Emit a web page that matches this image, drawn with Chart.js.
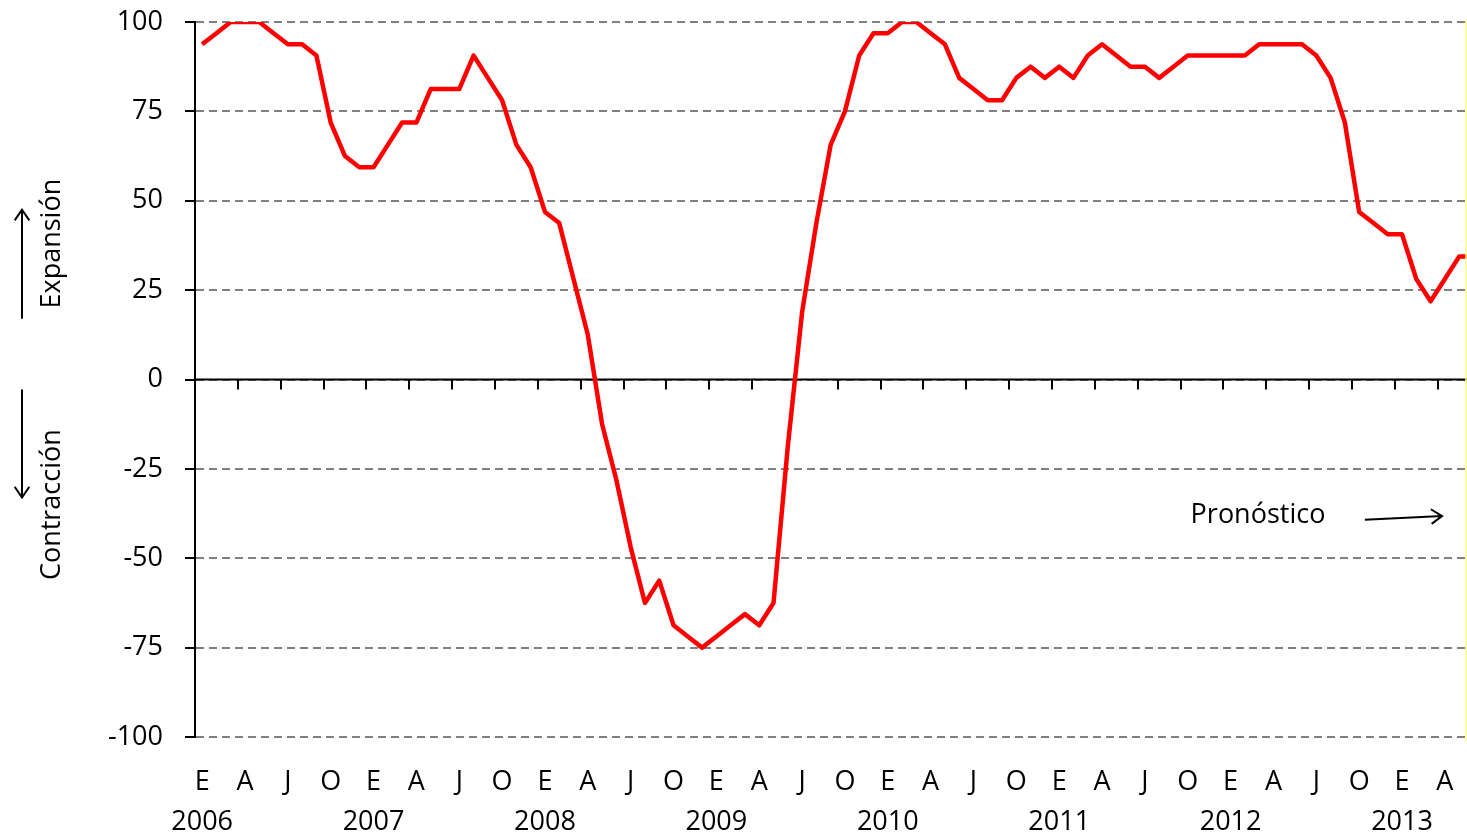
<!DOCTYPE html>
<html>
<head>
<meta charset="utf-8">
<title>Expansión / Contracción</title>
<script src="https://cdn.jsdelivr.net/npm/chart.js@4.4.1/dist/chart.umd.min.js"></script>
<style>
  html, body { margin: 0; padding: 0; background: #fff; }
  #wrap { width: 1467px; height: 835px; }
</style>
</head>
<body>
<div id="wrap"><canvas id="chart" width="1467" height="835"></canvas></div>
<script>
// monthly series, Jan 2006 onwards (the last value runs off the right edge)
const years = [2006, 2007, 2008, 2009, 2010, 2011, 2012, 2013];
const quarterLetters = ["E", "A", "J", "O"];
const balance = [
  93.75, 96.875, 100, 100, 100, 96.875, 93.75, 93.75, 90.625, 71.875, 62.5, 59.375,
  59.375, 65.625, 71.875, 71.875, 81.25, 81.25, 81.25, 90.625, 84.375, 78.125, 65.625, 59.375,
  46.875, 43.75, 28.125, 12.5, -12.5, -28.125, -46.875, -62.5, -56.25, -68.75, -71.875, -75,
  -71.875, -68.75, -65.625, -68.75, -62.5, -18.75, 18.75, 43.75, 65.625, 75, 90.625, 96.875,
  96.875, 100, 100, 96.875, 93.75, 84.375, 81.25, 78.125, 78.125, 84.375, 87.5, 84.375,
  87.5, 84.375, 90.625, 93.75, 90.625, 87.5, 87.5, 84.375, 87.5, 90.625, 90.625, 90.625,
  90.625, 90.625, 93.75, 93.75, 93.75, 93.75, 90.625, 84.375, 71.875, 46.875, 43.75, 40.625,
  40.625, 28.125, 21.875, 28.125, 34.375, 34.375
];
const yTickValues = [-100, -75, -50, -25, 0, 25, 50, 75, 100];

const FONT = "'Open Sans', 'DejaVu Sans', sans-serif";
const FONT_SIZE = 27;

// quarter positions (month index) with their letter / year
const quarterTicks = [];
years.forEach((yr, yi) => {
  quarterLetters.forEach((l, qi) => {
    quarterTicks.push({ value: yi * 12 + qi * 3, letter: l, year: qi === 0 ? String(yr) : null });
  });
});

function arrow(ctx, x1, y1, x2, y2) {
  const a = Math.atan2(y2 - y1, x2 - x1);
  const len = 13, spread = 0.6;
  ctx.beginPath();
  ctx.moveTo(x1, y1);
  ctx.lineTo(x2, y2);
  ctx.moveTo(x2 - len * Math.cos(a - spread), y2 - len * Math.sin(a - spread));
  ctx.lineTo(x2, y2);
  ctx.lineTo(x2 - len * Math.cos(a + spread), y2 - len * Math.sin(a + spread));
  ctx.stroke();
}

const decor = {
  id: "decor",
  beforeDatasetsDraw(chart) {
    const { ctx, chartArea, scales: { x, y } } = chart;
    const y0 = y.getPixelForValue(0);
    ctx.save();
    ctx.strokeStyle = "#000";
    ctx.lineWidth = 2;
    ctx.beginPath();
    ctx.moveTo(chartArea.left, y0);
    ctx.lineTo(chartArea.right, y0);
    // tick marks between quarters
    for (let i = 2.5; i < x.max; i += 3) {
      const px = Math.round(x.getPixelForValue(i));
      ctx.moveTo(px, y0);
      ctx.lineTo(px, y0 + 10);
    }
    ctx.stroke();
    ctx.restore();
  },
  afterDraw(chart) {
    const { ctx, chartArea, scales: { x, y } } = chart;
    ctx.save();
    ctx.fillStyle = "#000";
    ctx.strokeStyle = "#000";
    ctx.lineWidth = 2;
    ctx.font = FONT_SIZE + "px " + FONT;
    ctx.textAlign = "center";
    ctx.textBaseline = "middle";

    // side notes
    const side = [["Expansión", y.getPixelForValue(38)], ["Contracción", y.getPixelForValue(-35)]];
    side.forEach(([t, py]) => {
      ctx.save();
      ctx.translate(52, py);
      ctx.rotate(-Math.PI / 2);
      ctx.fillText(t, 0, 0);
      ctx.restore();
    });
    arrow(ctx, 22, y.getPixelForValue(17), 22, y.getPixelForValue(47.5));
    arrow(ctx, 22, y.getPixelForValue(-2.8), 22, y.getPixelForValue(-33));

    // forecast note
    ctx.textAlign = "left";
    ctx.fillText("Pronóstico", x.getPixelForValue(69.2), y.getPixelForValue(-38));
    arrow(ctx, x.getPixelForValue(81.4), y.getPixelForValue(-39.2), x.getPixelForValue(86.8), y.getPixelForValue(-38.2));

    // thin yellow edge on the right
    ctx.strokeStyle = "#ffff80";
    ctx.lineWidth = 1.5;
    ctx.beginPath();
    ctx.moveTo(chartArea.right - 1, chartArea.top - 2);
    ctx.lineTo(chartArea.right - 1, chartArea.bottom + 4);
    ctx.stroke();
    ctx.restore();
  }
};

Chart.defaults.color = "#000";
Chart.defaults.font.family = FONT;
Chart.defaults.font.size = FONT_SIZE;

new Chart(document.getElementById("chart"), {
  type: "line",
  data: {
    datasets: [{
      data: balance.map((v, i) => ({ x: i, y: v })),
      borderColor: "#ff0000",
      borderWidth: 4.5,
      borderJoinStyle: "round",
      pointRadius: 0,
      tension: 0,
      fill: false
    }]
  },
  options: {
    responsive: false,
    animation: false,
    layout: { padding: { top: 22, right: 0, bottom: 0, left: 0 } },
    plugins: { legend: { display: false }, tooltip: { enabled: false } },
    scales: {
      x: {
        type: "linear",
        min: -0.5,
        max: 88.55,
        grid: { display: false },
        border: { display: false },
        afterBuildTicks: (s) => {
          s.ticks = quarterTicks.filter(t => t.value <= s.max).map(t => ({ value: t.value }));
        },
        ticks: {
          autoSkip: false,
          maxRotation: 0,
          padding: 17,
          font: { size: FONT_SIZE, lineHeight: 1.48 },
          callback: (value) => {
            const q = quarterTicks.find(t => t.value === value);
            if (!q) return "";
            return q.year ? [q.letter, q.year] : q.letter;
          }
        },
        afterFit: (s) => { s.height = 98; s.paddingLeft = 0; s.paddingRight = 0; }
      },
      y: {
        min: -100,
        max: 100,
        afterBuildTicks: (s) => { s.ticks = yTickValues.map(v => ({ value: v })); },
        ticks: { padding: 22, font: { size: FONT_SIZE } },
        grid: {
          color: "#808080",
          lineWidth: 2,
          tickLength: 10,
          tickColor: "#000",
          tickWidth: 2,
          tickBorderDash: []
        },
        border: { display: true, color: "#000", width: 2, dash: [8, 5] },
        afterFit: (s) => { s.width = 195; s.paddingTop = 0; s.paddingBottom = 0; }
      }
    }
  },
  plugins: [decor]
});
</script>
</body>
</html>
